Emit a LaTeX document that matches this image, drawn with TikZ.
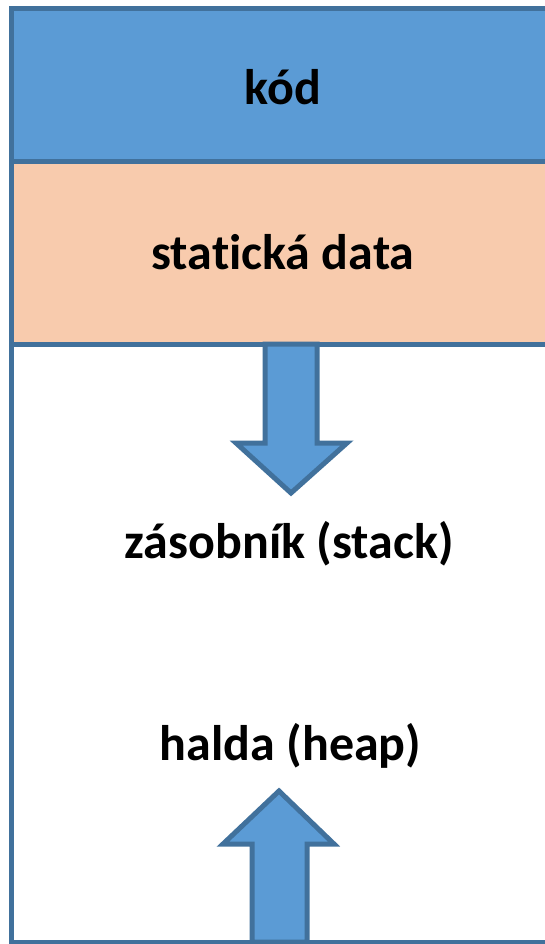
\documentclass[tikz,border=0pt]{standalone}
\usepackage{fontspec}
\setmainfont{Carlito}[Ligatures=NoCommon]
\usetikzlibrary{calc}
\definecolor{segblue}{HTML}{5B9BD5}
\definecolor{segpeach}{HTML}{F8CBAD}
\definecolor{segedge}{HTML}{41719C}
\tikzset{
  segment/.style={draw=segedge, line width=5pt},
  seglabel/.style={font=\bfseries\fontsize{50}{55}\selectfont, anchor=base},
  blockarr/.style={draw=segedge, fill=segblue, line width=5pt, line join=miter},
}

\begin{document}
\begin{tikzpicture}[x=1pt, y=-1pt]
			%%%%% START %%%%%
			\useasboundingbox (0, 0) rectangle (545, 944);
			\clip (0, 0) rectangle (545, 944);

			% memory frame
			\draw[segment] (11, 944) -- (11, 9) -- (570, 9);
			\draw[segment] (11, 942) -- (570, 942);

			% segments
			\draw[segment, fill=segblue] (11, 9) rectangle (570, 162);
			\draw[segment, fill=segpeach] (11, 162) rectangle (570, 344);
			\draw[segedge, line width=5pt] (11, 9) -- (11, 944);

			\node[seglabel] (kod) at (283, 105) {kód};
			\node[seglabel] (data) at (283, 269) {statická data};
			\node[seglabel] (stack) at (289, 558) {zásobník (stack)};
			\node[seglabel] (heap) at (290.5, 760) {halda (heap)};

			% stack grows down
			\draw[blockarr] (265, 344) -- (265, 443) -- (236, 443) -- (291, 493)
				-- (347, 443) -- (317, 443) -- (317, 344) -- cycle;

			% heap grows up
			\draw[blockarr] (252, 942) -- (252, 844) -- (223, 844) -- (279, 791)
				-- (334, 844) -- (307, 844) -- (307, 942) -- cycle;
			%%%%% END %%%%%
\end{tikzpicture}
\end{document}
